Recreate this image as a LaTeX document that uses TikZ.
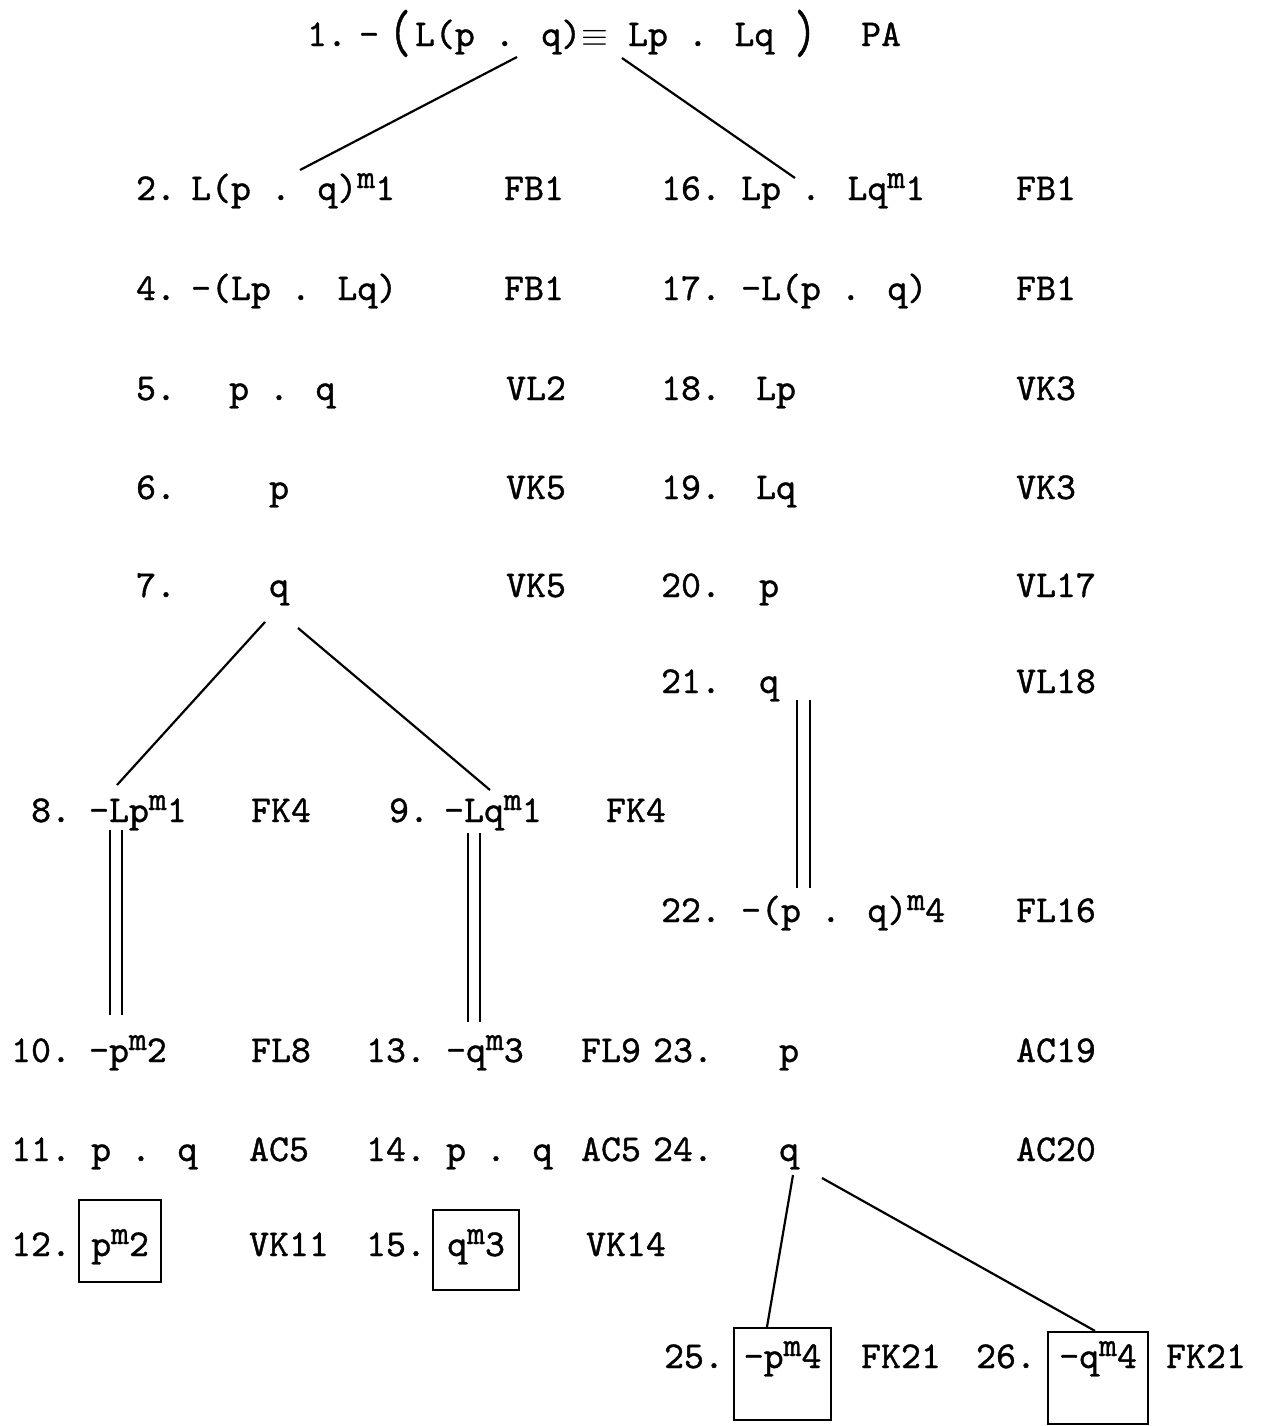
\documentclass[tikz,border=0pt]{standalone}
\usepackage{fontspec}
\usepackage{graphicx}
\usepackage{tikz}
\newfontfamily\twfont{lmmono10-regular.otf}[BoldFont=lmmono10-regular.otf,BoldFeatures={FakeBold=1}]
\newcommand{\tw}{\twfont\bfseries\fontsize{19}{22}\selectfont}
% raised m with its index
\newcommand{\mk}[1]{\raisebox{6pt}{\fontsize{17}{17}\selectfont m}#1}
\newcommand{\bigpar}[1]{\raisebox{-3pt}{\scalebox{1.1}[1.6]{#1}}}

\begin{document}
\begin{tikzpicture}[x=0.5pt,y=-0.5pt,line width=1.1pt,
  txt/.style={anchor=base west,inner sep=0pt,font=\tw},
  cell/.style={txt,draw,inner xsep=0pt,inner ysep=0pt}]
\useasboundingbox (0,0) rectangle (1266,1426);

% row 1
\node[txt] (n1) at (306,46) {1.};
\node[txt] (f1) at (358,46) {-\hspace{5pt}\bigpar{(}\hspace{2pt}L(p . q)$\equiv$ Lp . Lq \bigpar{)}};
\node[txt] (r1) at (860,46) {PA};

% left column
\node[txt] (n2) at (135,200) {2.};
\node[txt] (f2) at (190,200) {L(p . q)\mk{1}};
\node[txt] (r2) at (503,200) {FB1};
\node[txt] (n4) at (135,300) {4.};
\node[txt] (f4) at (190,300) {-(Lp . Lq)};
\node[txt] (r4) at (503,300) {FB1};
\node[txt] (n5) at (135,400) {5.};
\node[txt] (f5) at (228,400) {p . q};
\node[txt] (r5) at (505,400) {VL2};
\node[txt] (n6) at (135,499) {6.};
\node[txt] (f6) at (268,499) {p};
\node[txt] (r6) at (505,499) {VK5};
\node[txt] (n7) at (135,597) {7.};
\node[txt] (f7) at (268,597) {q};
\node[txt] (r7) at (505,597) {VK5};

% right column
\node[txt] (n16) at (660,200) {16.};
\node[txt] (f16) at (740,200) {Lp . Lq\mk{1}};
\node[txt] (r16) at (1015,200) {FB1};
\node[txt] (n17) at (660,300) {17.};
\node[txt] (f17) at (740,300) {-L(p . q)};
\node[txt] (r17) at (1015,300) {FB1};
\node[txt] (n18) at (660,400) {18.};
\node[txt] (f18) at (755,400) {Lp};
\node[txt] (r18) at (1015,400) {VK3};
\node[txt] (n19) at (660,499) {19.};
\node[txt] (f19) at (755,499) {Lq};
\node[txt] (r19) at (1015,499) {VK3};
\node[txt] (n20) at (660,597) {20.};
\node[txt] (f20) at (758,597) {p};
\node[txt] (r20) at (1015,597) {VL17};
\node[txt] (n21) at (660,693) {21.};
\node[txt] (f21) at (758,693) {q};
\node[txt] (r21) at (1015,693) {VL18};
\node[txt] (n22) at (660,922) {22.};
\node[txt] (f22) at (740,922) {-(p . q)\mk{4}};
\node[txt] (r22) at (1015,922) {FL16};
\node[txt] (n23) at (652,1062) {23.};
\node[txt] (f23) at (778,1062) {p};
\node[txt] (r23) at (1015,1062) {AC19};
\node[txt] (n24) at (652,1161) {24.};
\node[txt] (f24) at (778,1161) {q};
\node[txt] (r24) at (1015,1161) {AC20};

% branches under 7
\node[txt] (n8) at (30,822) {8.};
\node[txt] (f8) at (88,822) {-Lp\mk{1}};
\node[txt] (r8) at (250,822) {FK4};
\node[txt] (n9) at (388,822) {9.};
\node[txt] (f9) at (443,822) {-Lq\mk{1}};
\node[txt] (r9) at (605,822) {FK4};
\node[txt] (n10) at (10,1062) {10.};
\node[txt] (f10) at (88,1062) {-p\mk{2}};
\node[txt] (r10) at (250,1062) {FL8};
\node[txt] (n13) at (365,1062) {13.};
\node[txt] (f13) at (445,1062) {-q\mk{3}};
\node[txt] (r13) at (580,1062) {FL9};
\node[txt] (n11) at (10,1161) {11.};
\node[txt] (f11) at (90,1161) {p . q};
\node[txt] (r11) at (248,1161) {AC5};
\node[txt] (n14) at (365,1161) {14.};
\node[txt] (f14) at (445,1161) {p . q};
\node[txt] (r14) at (580,1161) {AC5};
\node[txt] (n12) at (10,1256) {12.};
\node[cell,minimum width=41pt,text height=28pt,text depth=13pt] (f12) at (78,1256) {p\mk{2}};
\node[txt] (r12) at (248,1256) {VK11};
\node[txt] (n15) at (365,1256) {15.};
\node[cell,minimum width=43pt,text height=23pt,text depth=17pt] (f15) at (432,1256) {q\mk{3}};
\node[txt] (r15) at (585,1256) {VK14};

% branches under 24
\node[txt] (n25) at (663,1368) {25.};
\node[cell,minimum width=48.5pt,text height=20pt,text depth=26pt] (f25) at (733,1368) {-p\mk{4}};
\node[txt] (r25) at (860,1368) {FK21};
\node[txt] (n26) at (975,1368) {26.};
\node[cell,minimum width=50pt,text height=18pt,text depth=28pt] (f26) at (1047,1368) {-q\mk{4}};
\node[txt] (r26) at (1165,1368) {FK21};

% line ends
\coordinate (t1l) at (517,57);
\coordinate (t1r) at (622,58);
\coordinate (t2) at (300,170);
\coordinate (t16) at (795,178);
\coordinate (t7l) at (265,622);
\coordinate (t7r) at (298,628);
\coordinate (t8) at (117,785);
\coordinate (t9) at (490,790);
\coordinate (t24l) at (793,1175);
\coordinate (t24r) at (822,1178);

\draw (t1l) -- (t2);
\draw (t1r) -- (t16);
\draw (t7l) -- (t8);
\draw (t7r) -- (t9);
\draw (t24l) -- (f25.north -| 767,0);
\draw (t24r) -- (f26.north -| 1095,0);

% closing strokes
\foreach \x in {110,122} \draw (\x,830) -- (\x,1015);
\foreach \x in {468,480} \draw (\x,833) -- (\x,1022);
\foreach \x in {797,810} \draw (\x,700) -- (\x,888);
\end{tikzpicture}
\end{document}
